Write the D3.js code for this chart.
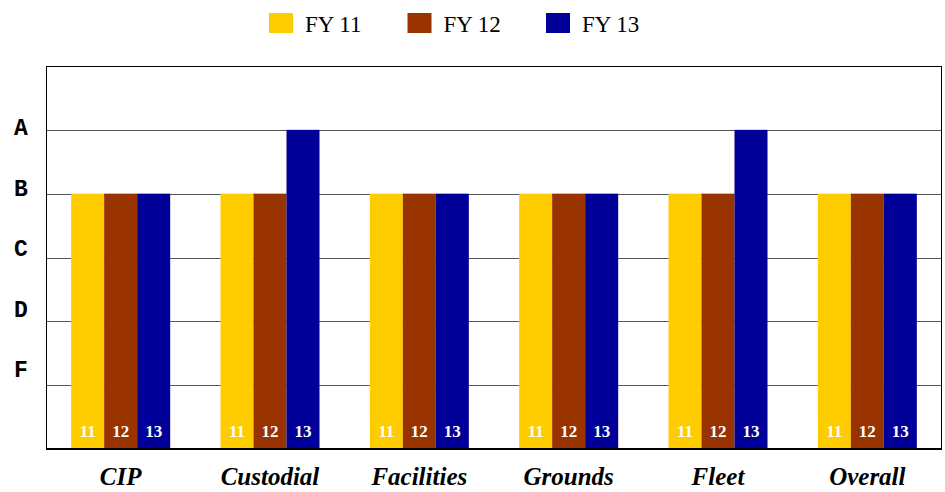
<!DOCTYPE html>
<html>
<head>
<meta charset="utf-8">
<script src="https://cdn.jsdelivr.net/npm/d3@7"></script>
<style>
  body { margin: 0; background: #fff; }
  .serif { font-family: "Liberation Serif", "DejaVu Serif", serif; }
  .mono { font-family: "Liberation Mono", "DejaVu Sans Mono", monospace; }
</style>
</head>
<body>
<div id="chart-area"></div>
<script>
const categories = ["CIP", "Custodial", "Facilities", "Grounds", "Fleet", "Overall"];
const seriesNames = ["FY 11", "FY 12", "FY 13"];
const barLabels = ["11", "12", "13"];
const colors = ["#FFCC00", "#993300", "#000099"];
// grades: F=1, D=2, C=3, B=4, A=5
const fy11 = [4, 4, 4, 4, 4, 4];
const fy12 = [4, 4, 4, 4, 4, 4];
const fy13 = [4, 5, 4, 4, 5, 4];
const gradeLabels = ["A", "B", "C", "D", "F"];

const W = 945, H = 492;
const margin = { top: 66, right: 3, bottom: 43, left: 46 };
const width = W - margin.left - margin.right;
const height = H - margin.top - margin.bottom;

const svg = d3.select("#chart-area").append("svg")
    .attr("width", W)
    .attr("height", H);

const g = svg.append("g")
    .attr("transform", `translate(${margin.left}, ${margin.top})`);

const x = d3.scaleBand()
    .domain(categories)
    .range([0, width])
    .paddingInner(0.337)
    .paddingOuter(0.1685);

const xs = d3.scaleBand()
    .domain(seriesNames)
    .range([0, x.bandwidth()]);

const y = d3.scaleLinear()
    .domain([0, 6])
    .range([height, 0]);

// grade labels sit a bit above their lines
const yLabel = d3.scalePoint()
    .domain(gradeLabels)
    .range([128 - margin.top, 370 - margin.top]);

// gridlines
g.append("g")
    .selectAll("line")
    .data([1, 2, 3, 4, 5])
    .enter().append("line")
    .attr("x1", 0)
    .attr("x2", width)
    .attr("y1", d => Math.round(y(d)) + 0.5)
    .attr("y2", d => Math.round(y(d)) + 0.5)
    .attr("stroke", "#555")
    .attr("stroke-width", 1.2);

const data = categories.map((c, i) => ({
    cat: c,
    vals: [fy11[i], fy12[i], fy13[i]]
}));

const groups = g.selectAll(".grp")
    .data(data)
    .enter().append("g")
    .attr("class", "grp")
    .attr("transform", d => `translate(${x(d.cat)},0)`);

groups.selectAll("rect")
    .data(d => d.vals.map((v, j) => ({ v, j })))
    .enter().append("rect")
    .attr("x", d => xs(seriesNames[d.j]))
    .attr("width", xs.bandwidth())
    .attr("y", d => y(d.v))
    .attr("height", d => height - y(d.v))
    .attr("fill", d => colors[d.j]);

groups.selectAll("text")
    .data(d => d.vals.map((v, j) => ({ v, j })))
    .enter().append("text")
    .attr("class", "serif")
    .attr("x", d => xs(seriesNames[d.j]) + xs.bandwidth() / 2)
    .attr("y", height - 12)
    .attr("text-anchor", "middle")
    .attr("font-weight", "bold")
    .attr("font-size", "17px")
    .attr("fill", "#fff")
    .text(d => barLabels[d.j]);

// frame
g.append("rect")
    .attr("x", 0.5)
    .attr("y", 0.5)
    .attr("width", width - 1)
    .attr("height", height - 1)
    .attr("fill", "none")
    .attr("stroke", "#000")
    .attr("stroke-width", 1);

g.append("line")
    .attr("x1", 0).attr("x2", width)
    .attr("y1", height).attr("y2", height)
    .attr("stroke", "#000")
    .attr("stroke-width", 2);

// y grade labels
svg.append("g")
    .selectAll("text")
    .data(gradeLabels)
    .enter().append("text")
    .attr("class", "mono")
    .attr("x", 21)
    .attr("y", d => margin.top + yLabel(d) + 7)
    .attr("text-anchor", "middle")
    .attr("font-weight", "bold")
    .attr("font-size", "23px")
    .text(d => d);

// x category labels
svg.append("g")
    .selectAll("text")
    .data(categories)
    .enter().append("text")
    .attr("class", "serif")
    .attr("x", d => margin.left + x(d) + x.bandwidth() / 2)
    .attr("y", 485)
    .attr("text-anchor", "middle")
    .attr("font-weight", "bold")
    .attr("font-style", "italic")
    .attr("font-size", "25px")
    .text(d => d);

// legend
const legendX = d3.scalePoint()
    .domain(seriesNames)
    .range([269, 546]);

const legend = svg.append("g")
    .selectAll("g")
    .data(seriesNames)
    .enter().append("g")
    .attr("transform", d => `translate(${legendX(d)},13)`);

legend.append("rect")
    .attr("width", 24)
    .attr("height", 20)
    .attr("fill", (d, i) => colors[i]);

legend.append("text")
    .attr("class", "serif")
    .attr("x", 36)
    .attr("y", 19)
    .attr("font-size", "23px")
    .text(d => d);
</script>
</body>
</html>
